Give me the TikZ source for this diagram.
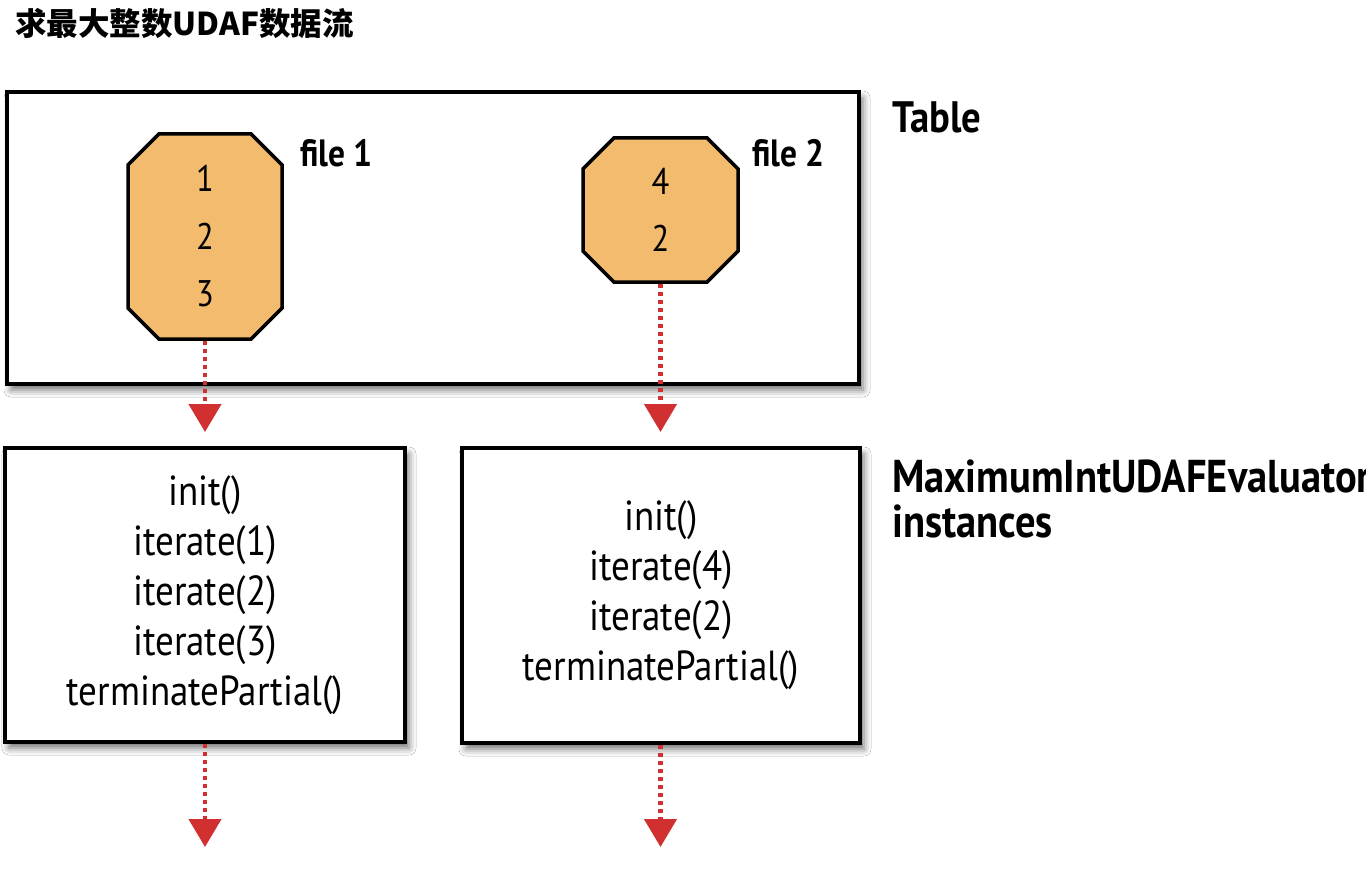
\documentclass[tikz,border=0pt]{standalone}
\usepackage{fontspec}
\setmainfont{PT Sans}[FakeStretch=0.88]
\newfontfamily\cjk{Noto Sans CJK SC}
\usetikzlibrary{arrows.meta,shapes.misc,shadows.blur}
\definecolor{filefill}{HTML}{F2BB6E}
\definecolor{arrred}{HTML}{D0302F}
\tikzset{
  box/.style={draw=black, line width=4pt, fill=white,
    blur shadow={shadow xshift=4pt, shadow yshift=-6pt, shadow blur radius=7pt, shadow opacity=55},
    inner sep=0pt, align=center, font=\fontsize{42}{50}\selectfont},
  filebox/.style={chamfered rectangle, chamfered rectangle xsep=22pt, chamfered rectangle ysep=20pt,
    draw=black, line width=3.5pt, fill=filefill, inner sep=0pt, align=center,
    font=\fontsize{37}{57.5}\selectfont},
  lbl/.style={anchor=base west, inner sep=0pt, font=\bfseries\fontsize{44}{45}\selectfont},
  flow/.style={draw=arrred, line width=4.5pt, dash pattern=on 4pt off 4pt,
    -{Triangle[width=32pt,length=28pt]}},
}
\begin{document}
\begin{tikzpicture}[x=1pt,y=-1pt]
\useasboundingbox[fill=white] (0,0) rectangle (1366,872);
\node[anchor=west, inner sep=0pt, font=\cjk\bfseries\fontsize{31.5}{36}\selectfont] (title) at (15,24) {求最大整数UDAF数据流};
% table
\node[box, minimum width=852pt, minimum height=292pt] (table) at (433,238) {};
\node[filebox, minimum width=154pt, minimum height=205pt] (f1) at (205,236.5) {1\\2\\3};
\node[filebox, minimum width=155pt, minimum height=144pt] (f2) at (660.5,210) {4\\2};
\node[lbl, font=\bfseries\fontsize{38}{40}\selectfont] (l1) at (300,167) {file 1};
\node[lbl, font=\bfseries\fontsize{38}{40}\selectfont] (l2) at (752,167) {file 2};
\node[lbl] (ltable) at (892,133) {Table};
% evaluators
\node[box, minimum width=400pt, minimum height=294pt] (L) at (205,595) {init()\\iterate(1)\\iterate(2)\\iterate(3)\\terminatePartial()};
\node[box, minimum width=398pt, minimum height=295pt] (R) at (661,595.5) {init()\\iterate(4)\\iterate(2)\\terminatePartial()};
\node[lbl, font=\bfseries\fontsize{46}{45}\selectfont] (lmax) at (892,492) {MaximumIntUDAFEvaluator};
\node[lbl, font=\bfseries\fontsize{46}{45}\selectfont] (linst) at (892,537) {instances};
% arrows
\coordinate (Lend) at (205,847);
\coordinate (Rend) at (660.5,847);
\draw[flow, shorten >=14pt] (f1.south) -- (f1.south |- L.north);
\draw[flow, shorten >=14pt] (f2.south) -- (f2.south |- R.north);
\draw[flow] (L.south) -- (Lend);
\draw[flow] (R.south -| Rend) -- (Rend);
\end{tikzpicture}
\end{document}
